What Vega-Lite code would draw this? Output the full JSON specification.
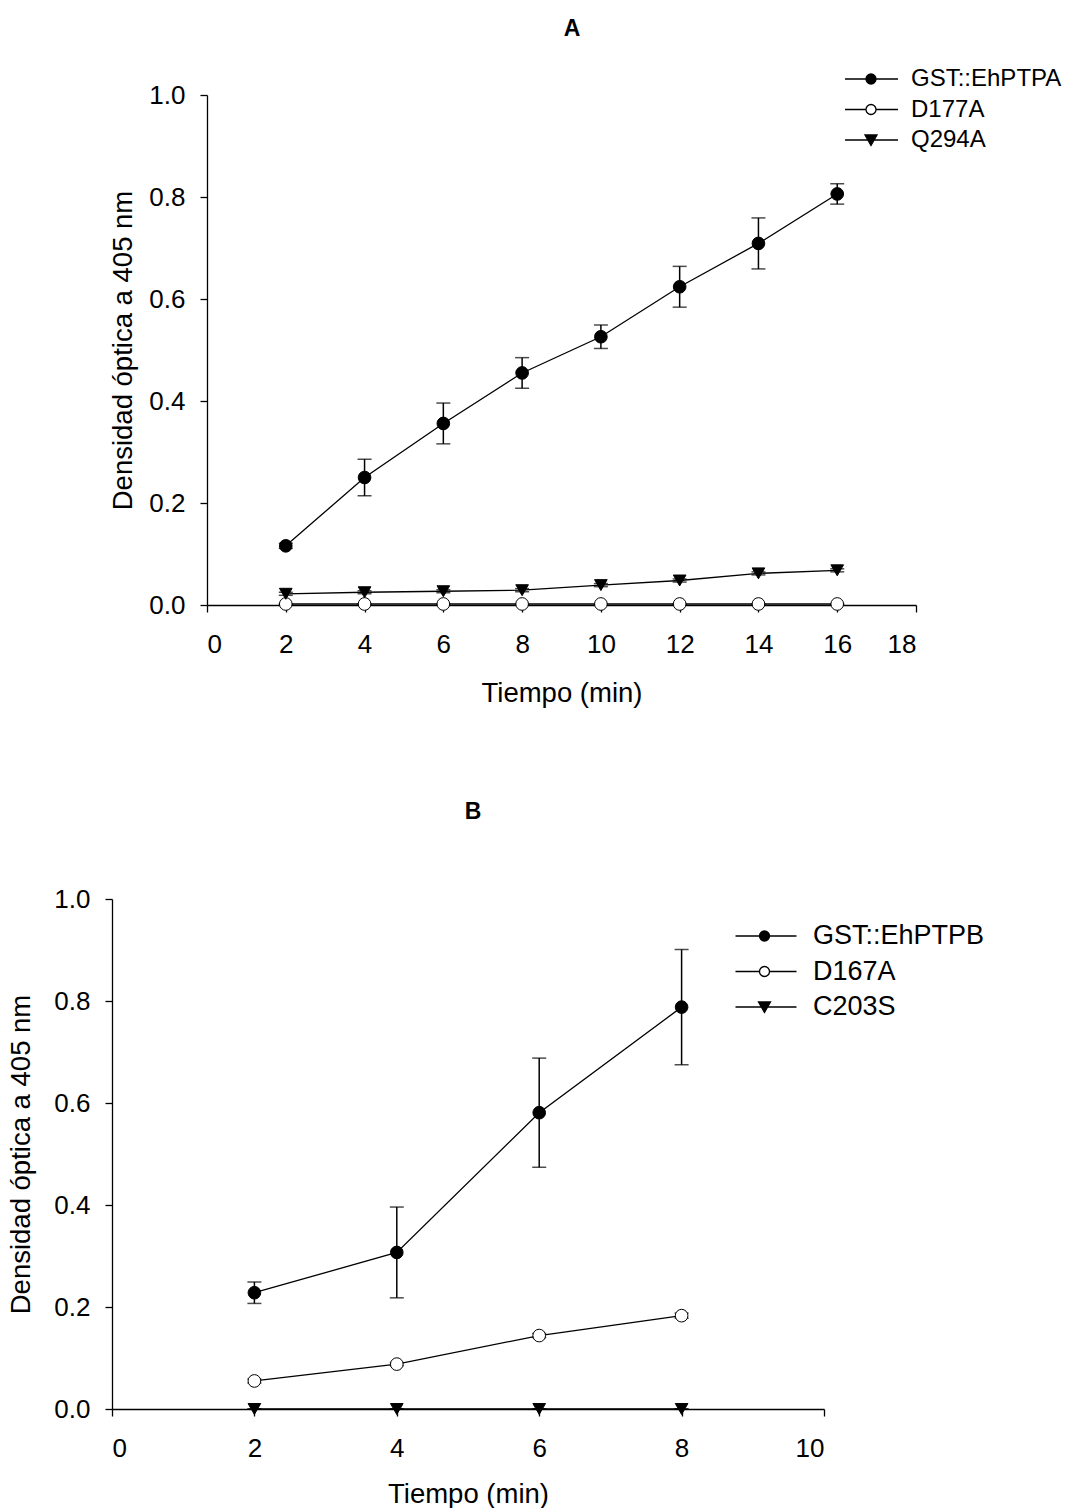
{
  "$schema": "https://vega.github.io/schema/vega-lite/v6.json",
  "background": "white",
  "padding": {"left": 7, "top": 18, "right": 0, "bottom": 0},
  "spacing": 94,
  "config": {
    "font": "Liberation Sans",
    "view": {"stroke": null},
    "axis": {
      "domainColor": "black", "domainWidth": 1.3, "tickColor": "black", "tickWidth": 1.3, "tickSize": 7,
      "labelFontSize": 26, "labelColor": "black", "labelFont": "Liberation Sans", "labelPadding": 15,
      "titleFontSize": 27.5, "titleFontWeight": "normal", "titleColor": "black", "titleFont": "Liberation Sans",
      "grid": false
    },
    "title": {"fontSize": 23, "fontWeight": "bold", "color": "black", "font": "Liberation Sans"},
    "legend": {"labelFont": "Liberation Sans", "labelColor": "black", "labelLimit": 400, "padding": 0, "symbolSize": 100, "symbolStrokeColor": "black", "symbolStrokeWidth": 1.3, "symbolOpacity": 1}
  },
  "datasets": {
    "A": [
      {"series": "GST::EhPTPA", "t": 2, "od": 0.116, "err": 0.005},
      {"series": "GST::EhPTPA", "t": 4, "od": 0.250, "err": 0.036},
      {"series": "GST::EhPTPA", "t": 6, "od": 0.356, "err": 0.040},
      {"series": "GST::EhPTPA", "t": 8, "od": 0.455, "err": 0.030},
      {"series": "GST::EhPTPA", "t": 10, "od": 0.526, "err": 0.023},
      {"series": "GST::EhPTPA", "t": 12, "od": 0.624, "err": 0.040},
      {"series": "GST::EhPTPA", "t": 14, "od": 0.709, "err": 0.050},
      {"series": "GST::EhPTPA", "t": 16, "od": 0.806, "err": 0.020},
      {"series": "D177A", "t": 2, "od": 0.002, "err": 0.0},
      {"series": "D177A", "t": 4, "od": 0.002, "err": 0.0},
      {"series": "D177A", "t": 6, "od": 0.002, "err": 0.0},
      {"series": "D177A", "t": 8, "od": 0.002, "err": 0.0},
      {"series": "D177A", "t": 10, "od": 0.002, "err": 0.0},
      {"series": "D177A", "t": 12, "od": 0.002, "err": 0.0},
      {"series": "D177A", "t": 14, "od": 0.002, "err": 0.0},
      {"series": "D177A", "t": 16, "od": 0.002, "err": 0.0},
      {"series": "Q294A", "t": 2, "od": 0.022, "err": 0.003},
      {"series": "Q294A", "t": 4, "od": 0.025, "err": 0.003},
      {"series": "Q294A", "t": 6, "od": 0.027, "err": 0.003},
      {"series": "Q294A", "t": 8, "od": 0.029, "err": 0.003},
      {"series": "Q294A", "t": 10, "od": 0.039, "err": 0.003},
      {"series": "Q294A", "t": 12, "od": 0.048, "err": 0.003},
      {"series": "Q294A", "t": 14, "od": 0.062, "err": 0.003},
      {"series": "Q294A", "t": 16, "od": 0.068, "err": 0.003}
    ],
    "B": [
      {"series": "GST::EhPTPB", "t": 2, "od": 0.228, "err": 0.021},
      {"series": "GST::EhPTPB", "t": 4, "od": 0.307, "err": 0.089},
      {"series": "GST::EhPTPB", "t": 6, "od": 0.581, "err": 0.107},
      {"series": "GST::EhPTPB", "t": 8, "od": 0.788, "err": 0.113},
      {"series": "D167A", "t": 2, "od": 0.055, "err": 0.004},
      {"series": "D167A", "t": 4, "od": 0.088, "err": 0.003},
      {"series": "D167A", "t": 6, "od": 0.144, "err": 0.004},
      {"series": "D167A", "t": 8, "od": 0.183, "err": 0.005},
      {"series": "C203S", "t": 2, "od": 0.0, "err": 0.0},
      {"series": "C203S", "t": 4, "od": 0.0, "err": 0.0},
      {"series": "C203S", "t": 6, "od": 0.0, "err": 0.0},
      {"series": "C203S", "t": 8, "od": 0.0, "err": 0.0}
    ]
  },
  "vconcat": [
    {
      "title": {"text": "A", "offset": 26, "dx": 58},
      "width": 804,
      "height": 510,
      "data": {"name": "A"},
      "encoding": {
        "x": {"field": "t", "type": "quantitative",
          "scale": {"domain": [0, 18], "range": [95, 804], "nice": false, "zero": false},
          "axis": {"values": [0, 2, 4, 6, 8, 10, 12, 14, 16, 18], "format": "d", "title": "Tiempo (min)", "labelPadding": 19, "titlePadding": 22}},
        "y": {"field": "od", "type": "quantitative",
          "scale": {"domain": [0, 1], "nice": false},
          "axis": {"values": [0, 0.2, 0.4, 0.6, 0.8, 1.0], "format": ".1f", "title": "Densidad óptica a 405 nm", "offset": -95, "titlePadding": 11}}
      },
      "layer": [
        {"mark": {"type": "line", "color": "black", "strokeWidth": 1.3}, "encoding": {"detail": {"field": "series", "type": "nominal"}}},
        {"mark": {"type": "errorbar", "ticks": {"size": 14, "thickness": 1.5, "color": "black"}, "rule": {"strokeWidth": 1.5, "color": "black"}},
          "encoding": {"yError": {"field": "err"}, "detail": {"field": "series", "type": "nominal"}}},
        {"mark": {"type": "point", "filled": true, "opacity": 1, "size": 160, "stroke": "black", "strokeWidth": 1},
          "encoding": {
            "shape": {"field": "series", "type": "nominal",
              "scale": {"domain": ["Q294A", "D177A", "GST::EhPTPA"], "range": ["triangle-down", "circle", "circle"]},
              "legend": null},
            "fill": {"field": "series", "type": "nominal",
              "scale": {"domain": ["Q294A", "D177A", "GST::EhPTPA"], "range": ["black", "white", "black"]},
              "legend": null}
          }},
        {"mark": {"type": "point", "filled": true, "opacity": 0, "strokeWidth": 1.3},
          "encoding": {
            "shape": {"field": "series", "type": "nominal",
              "scale": {"domain": ["GST::EhPTPA", "D177A", "Q294A"], "range": ["M-5.2,0H-1M1,0H5.4M-1,0A1,1 0 1,0 1,0A1,1 0 1,0 -1,0Z", "M-5.2,0H-1M1,0H5.4M-1,0A1,1 0 1,0 1,0A1,1 0 1,0 -1,0Z", "M-5.2,0H5.4M-1.2,-1H1.2L0,1.1Z"]},
              "legend": {"title": null, "orient": "none", "legendX": 747, "legendY": -28, "labelFontSize": 24, "labelOffset": 28, "rowPadding": 6.5, "symbolOpacity": 1, "symbolStrokeWidth": 1.3}},
            "fill": {"field": "series", "type": "nominal",
              "scale": {"domain": ["GST::EhPTPA", "D177A", "Q294A"], "range": ["black", "white", "black"]},
              "legend": {"title": null, "orient": "none", "legendX": 747, "legendY": -28, "labelFontSize": 24, "labelOffset": 28, "rowPadding": 6.5, "symbolOpacity": 1, "symbolStrokeWidth": 1.3}},
            "stroke": {"field": "series", "type": "nominal",
              "scale": {"domain": ["GST::EhPTPA", "D177A", "Q294A"], "range": ["black", "black", "black"]},
              "legend": {"title": null, "orient": "none", "legendX": 747, "legendY": -28, "labelFontSize": 24, "labelOffset": 28, "rowPadding": 6.5, "symbolOpacity": 1, "symbolStrokeWidth": 1.3}}
          }}
      ],
      "resolve": {"scale": {"shape": "independent", "fill": "independent", "stroke": "independent"}}
    },
    {
      "title": {"text": "B", "offset": 62, "dx": 5},
      "width": 712,
      "height": 510,
      "data": {"name": "B"},
      "encoding": {
        "x": {"field": "t", "type": "quantitative",
          "scale": {"domain": [0, 10], "nice": false, "zero": false},
          "axis": {"values": [0, 2, 4, 6, 8, 10], "format": "d", "title": "Tiempo (min)", "labelPadding": 19, "titlePadding": 19}},
        "y": {"field": "od", "type": "quantitative",
          "scale": {"domain": [0, 1], "nice": false},
          "axis": {"values": [0, 0.2, 0.4, 0.6, 0.8, 1.0], "format": ".1f", "title": "Densidad óptica a 405 nm", "titlePadding": 18}}
      },
      "layer": [
        {"mark": {"type": "line", "color": "black", "strokeWidth": 1.3}, "encoding": {"detail": {"field": "series", "type": "nominal"}}},
        {"mark": {"type": "errorbar", "ticks": {"size": 14, "thickness": 1.5, "color": "black"}, "rule": {"strokeWidth": 1.5, "color": "black"}},
          "encoding": {"yError": {"field": "err"}, "detail": {"field": "series", "type": "nominal"}}},
        {"mark": {"type": "point", "filled": true, "opacity": 1, "size": 160, "stroke": "black", "strokeWidth": 1},
          "encoding": {
            "shape": {"field": "series", "type": "nominal",
              "scale": {"domain": ["C203S", "D167A", "GST::EhPTPB"], "range": ["triangle-down", "circle", "circle"]},
              "legend": null},
            "fill": {"field": "series", "type": "nominal",
              "scale": {"domain": ["C203S", "D167A", "GST::EhPTPB"], "range": ["black", "white", "black"]},
              "legend": null}
          }},
        {"mark": {"type": "point", "filled": true, "opacity": 0, "strokeWidth": 1.3},
          "encoding": {
            "shape": {"field": "series", "type": "nominal",
              "scale": {"domain": ["GST::EhPTPB", "D167A", "C203S"], "range": ["M-5.8,0H-1M1,0H6.4M-1,0A1,1 0 1,0 1,0A1,1 0 1,0 -1,0Z", "M-5.8,0H-1M1,0H6.4M-1,0A1,1 0 1,0 1,0A1,1 0 1,0 -1,0Z", "M-5.8,0H6.4M-1.2,-1H1.2L0,1.1Z"]},
              "legend": {"title": null, "orient": "none", "legendX": 639, "legendY": 23.5, "labelFontSize": 27, "labelOffset": 35, "rowPadding": 7.5, "symbolOpacity": 1, "symbolStrokeWidth": 1.3}},
            "fill": {"field": "series", "type": "nominal",
              "scale": {"domain": ["GST::EhPTPB", "D167A", "C203S"], "range": ["black", "white", "black"]},
              "legend": {"title": null, "orient": "none", "legendX": 639, "legendY": 23.5, "labelFontSize": 27, "labelOffset": 35, "rowPadding": 7.5, "symbolOpacity": 1, "symbolStrokeWidth": 1.3}},
            "stroke": {"field": "series", "type": "nominal",
              "scale": {"domain": ["GST::EhPTPB", "D167A", "C203S"], "range": ["black", "black", "black"]},
              "legend": {"title": null, "orient": "none", "legendX": 639, "legendY": 23.5, "labelFontSize": 27, "labelOffset": 35, "rowPadding": 7.5, "symbolOpacity": 1, "symbolStrokeWidth": 1.3}}
          }}
      ],
      "resolve": {"scale": {"shape": "independent", "fill": "independent", "stroke": "independent"}}
    }
  ],
  "resolve": {"scale": {"shape": "independent", "fill": "independent", "stroke": "independent", "x": "independent", "y": "independent"}, "legend": {"shape": "independent", "fill": "independent", "stroke": "independent"}}
}
